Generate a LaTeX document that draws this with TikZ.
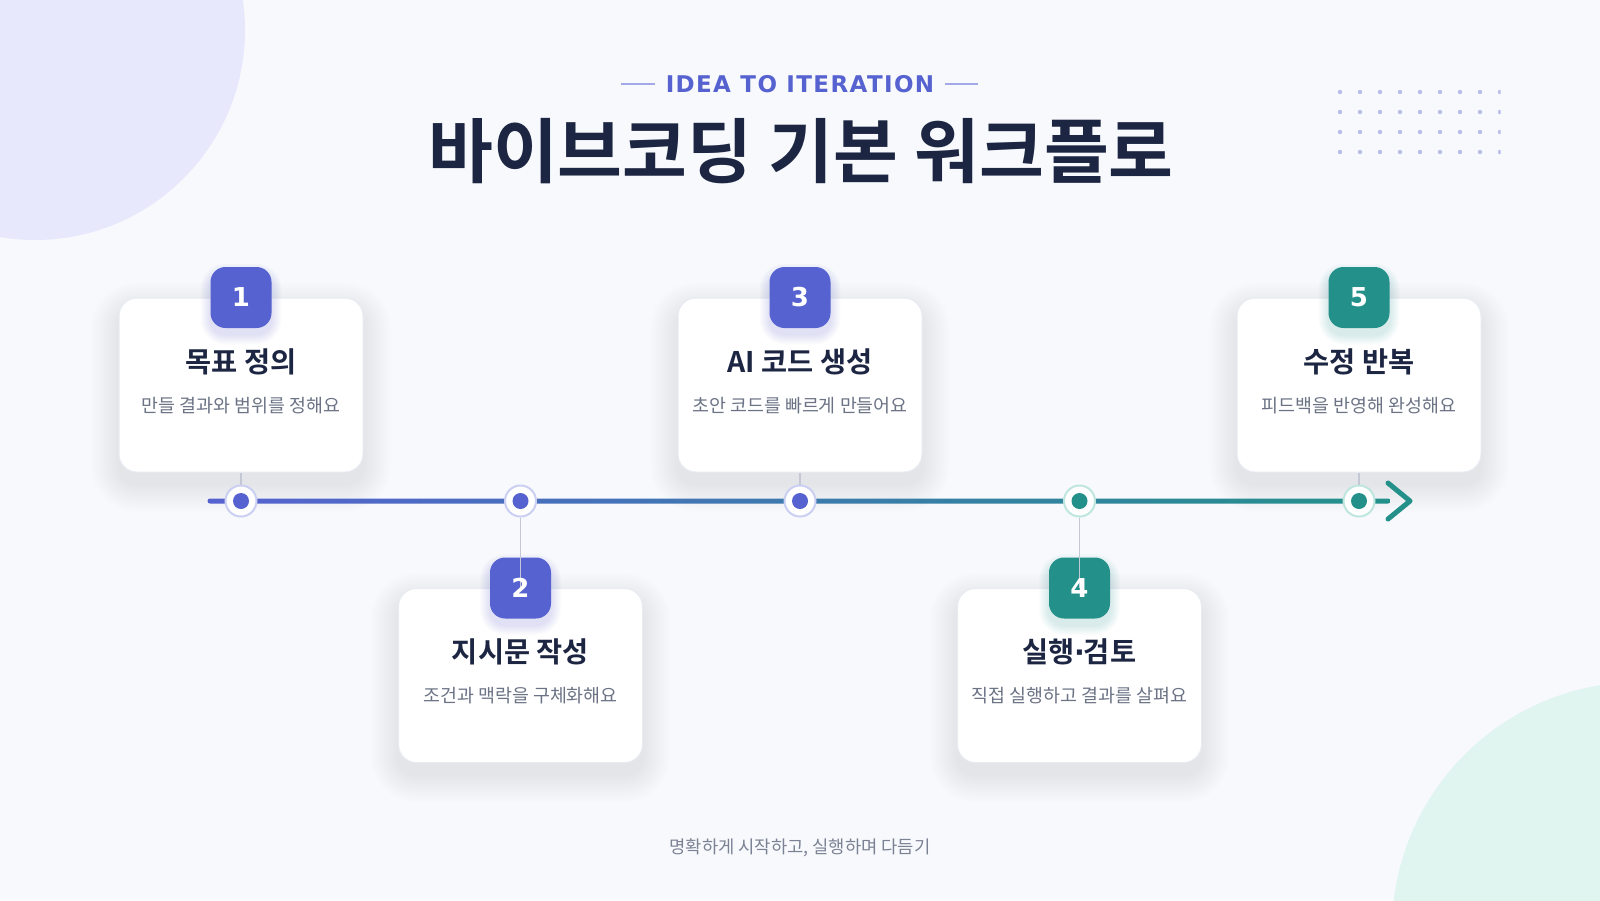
\documentclass[tikz,border=0pt]{standalone}
\usepackage{fontspec}
\setmainfont{DejaVu Sans}
\newfontfamily\kr{Noto Sans CJK KR}
\newfontfamily\krb{Noto Sans CJK KR Bold}
\newfontfamily\numfont{DejaVu Sans Bold}
\newfontfamily\spacedfont[LetterSpace=6]{DejaVu Sans Bold}
\definecolor{bgc}{HTML}{F7F9FC}
\definecolor{lav}{HTML}{E8E8FD}
\definecolor{mint}{HTML}{E0F4F0}
\definecolor{indi}{HTML}{5662D0}
\definecolor{tealc}{HTML}{23918A}
\definecolor{navy}{HTML}{1C2541}
\definecolor{subg}{HTML}{6B7385}
\definecolor{footg}{HTML}{7B8294}
\definecolor{dotg}{HTML}{B9BDEB}
\definecolor{ringi}{HTML}{CBCFF2}
\definecolor{ringt}{HTML}{BEE6DF}
\definecolor{connc}{HTML}{C3C7D6}
\definecolor{cardb}{HTML}{E8EBF2}
\definecolor{decol}{HTML}{A3A9E6}
\newcommand{\cardshadow}[2]{%
  \foreach \k in {1,...,20}{%
    \pgfmathsetmacro\rr{18+1.4*\k}%
    \pgfmathsetmacro\dd{1.4*\k}%
    \fill[navy,opacity=0.0042,rounded corners=\rr pt] ({#1-122-\dd},{#2-87-\dd+12}) rectangle ({#1+122+\dd},{#2+87+\dd+12});}}
\newcommand{\badgeshadow}[3]{%
  \foreach \k in {1,...,10}{%
    \pgfmathsetmacro\rr{15+\k}%
    \fill[#3,opacity=0.014,rounded corners=\rr pt] ({#1-30.5-\k},{#2-30.5-\k+6}) rectangle ({#1+30.5+\k},{#2+30.5+\k+6});}}
\tikzset{
  card/.style={draw=cardb, line width=1pt, fill=white, rounded corners=18pt,
    minimum width=244pt, minimum height=174pt, inner sep=0pt},
  badge/.style={fill=#1, rounded corners=15pt, minimum width=61pt, minimum height=61pt, inner sep=0pt},
  num/.style={text=white, font=\numfont\fontsize{26}{30}\selectfont, inner sep=0pt},
  ctitle/.style={text=navy, font=\krb\fontsize{28.4}{32}\selectfont, inner sep=0pt},
  csub/.style={text=subg, font=\kr\fontsize{18.4}{22}\selectfont, inner sep=0pt},
  ring/.style={circle, fill=white, draw=#1, line width=2pt, minimum size=31pt, inner sep=0pt},
  pin/.style={circle, fill=#1, minimum size=16pt, inner sep=0pt},
  conn/.style={draw=connc, line width=1.6pt},
}
\begin{document}
\begin{tikzpicture}[x=1pt,y=-1pt]
\useasboundingbox (0,0) rectangle (1600,900);
\fill[bgc] (0,0) rectangle (1600,900);
% decorative circles
\fill[lav] (35,30) circle (210);
\fill[mint] (1640,930) circle (248);
% dot grid
\begin{scope}
\clip (1330,80) rectangle (1500.5,165);
\foreach \i in {0,...,8} {\foreach \j in {0,...,3} {\fill[dotg] (1340+20*\i,92+20*\j) circle (2.2);}}
\end{scope}
% header
\node[text=indi, font=\spacedfont\fontsize{23}{27}\selectfont, inner sep=0pt] (kicker) at (800,84) {IDEA TO ITERATION};
\coordinate (kl1) at (621,84); \coordinate (kl2) at (655,84);
\coordinate (kr1) at (945,84); \coordinate (kr2) at (978,84);
\draw[decol, line width=2pt] (kl1) -- (kl2);
\draw[decol, line width=2pt] (kr1) -- (kr2);
\node[text=navy, font=\krb\fontsize{70.5}{78}\selectfont, inner sep=0pt] (title) at (801,151) {바이브코딩 기본 워크플로};
% card shadows
\cardshadow{241}{385}
\cardshadow{520.5}{675.5}
\cardshadow{800}{385}
\cardshadow{1079.5}{675.5}
\cardshadow{1359}{385}
% cards
\node[card] (c1) at (241,385) {};
\node[card] (c2) at (520.5,675.5) {};
\node[card] (c3) at (800,385) {};
\node[card] (c4) at (1079.5,675.5) {};
\node[card] (c5) at (1359,385) {};
% timeline
\shade[left color=indi, right color=tealc, rounded corners=2.5pt] (207.5,498.5) rectangle (1390.5,503.5);
\coordinate (ch1) at (1388,483); \coordinate (ch2) at (1410,501); \coordinate (ch3) at (1388,519);
\draw[tealc, line width=5pt, line cap=round, line join=round] (ch1) -- (ch2) -- (ch3);
% rings
\node[ring=ringi] (d1) at (241,501) {};
\node[ring=ringi] (d2) at (520.5,501) {};
\node[ring=ringi] (d3) at (800,501) {};
\node[ring=ringt] (d4) at (1079.5,501) {};
\node[ring=ringt] (d5) at (1359,501) {};
\draw[conn] (c1.south) -- (d1.north);
\draw[conn] (c3.south) -- (d3.north);
\draw[conn] (c5.south) -- (d5.north);
\node[pin=indi] at (d1) {};
\node[pin=indi] at (d2) {};
\node[pin=indi] at (d3) {};
\node[pin=tealc] at (d4) {};
\node[pin=tealc] at (d5) {};
% badges
\badgeshadow{241}{298}{indi}
\badgeshadow{520.5}{588.5}{indi}
\badgeshadow{800}{298}{indi}
\badgeshadow{1079.5}{588.5}{tealc}
\badgeshadow{1359}{298}{tealc}
\node[badge=indi] (b1) at (c1.north) {};
\node[badge=indi] (b2) at (c2.north) {};
\node[badge=indi] (b3) at (c3.north) {};
\node[badge=tealc] (b4) at (c4.north) {};
\node[badge=tealc] (b5) at (c5.north) {};
\draw[conn] (d2.south) -- (b2.center);
\draw[conn] (d4.south) -- (b4.center);
\node[num] at (b1) {1};
\node[num] at (b2) {2};
\node[num] at (b3) {3};
\node[num] at (b4) {4};
\node[num] at (b5) {5};
% texts
\node[ctitle] (t1) at (241,362) {목표 정의};
\node[csub] (s1) at (241,406) {만들 결과와 범위를 정해요};
\node[ctitle] (t2) at (520.5,652) {지시문 작성};
\node[csub] (s2) at (520.5,696) {조건과 맥락을 구체화해요};
\node[ctitle] (t3) at (800,362) {AI 코드 생성};
\node[csub] (s3) at (800,406) {초안 코드를 빠르게 만들어요};
\node[ctitle] (t4) at (1079.5,652) {실행{\numfont\kern-1pt·\kern-1pt}검토};
\node[csub] (s4) at (1079.5,696) {직접 실행하고 결과를 살펴요};
\node[ctitle] (t5) at (1359,362) {수정 반복};
\node[csub] (s5) at (1359,406) {피드백을 반영해 완성해요};
% footer
\node[text=footg, font=\kr\fontsize{17.7}{21}\selectfont, inner sep=0pt] (foot) at (800,848) {명확하게 시작하고, 실행하며 다듬기};
\end{tikzpicture}
\end{document}
